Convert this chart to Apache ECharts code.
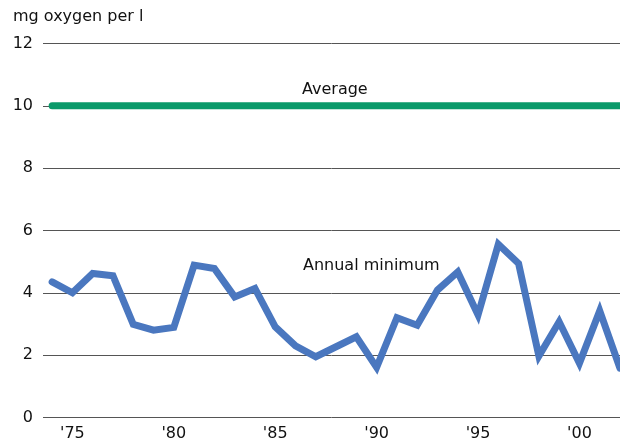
<!DOCTYPE html>
<html>
<head>
<meta charset="utf-8">
<script src="https://cdn.jsdelivr.net/npm/echarts@6/dist/echarts.min.js"></script>
<style>html,body{margin:0;padding:0;background:#fff}#c{width:620px;height:444px}</style>
</head>
<body>
<div id="c"></div>
<script>
const years = [1974,1975,1976,1977,1978,1979,1980,1981,1982,1983,1984,1985,1986,1987,1988,1989,1990,1991,1992,1993,1994,1995,1996,1997,1998,1999,2000,2001,2002];
const annualMinimum = [4.35,4.0,4.62,4.55,2.99,2.80,2.89,4.89,4.78,3.87,4.14,2.91,2.30,1.95,2.27,2.59,1.61,3.20,2.96,4.09,4.67,3.29,5.56,4.94,1.97,3.07,1.74,3.42,1.58];
const average = years.map(() => 10);
const xTickYears = [1975,1980,1985,1990,1995,2000];
const FONT = 'DejaVu Sans';

const chart = echarts.init(document.getElementById('c'), null, {renderer:'canvas'});
chart.setOption({
  animation:false,
  backgroundColor:'#fff',
  textStyle:{fontFamily:FONT},
  grid:{left:43,right:0,top:43.5,bottom:26.5,containLabel:false},
  xAxis:{
    type:'value', min:1973.55, max:2002,
    axisLine:{show:false}, axisTick:{show:false}, splitLine:{show:false},
    axisLabel:{customValues:xTickYears, color:'#111', fontSize:16, fontFamily:FONT, margin:8,
      formatter:v=>"'"+String(v).slice(2)}
  },
  yAxis:{
    type:'value', min:0, max:12, interval:2,
    axisLine:{show:false}, axisTick:{show:false},
    splitLine:{lineStyle:{color:'#555',width:1}},
    axisLabel:{color:'#111', fontSize:16, fontFamily:FONT, margin:10}
  },
  graphic:[
    {type:'text', left:13, top:9, style:{text:'mg oxygen per l', fill:'#111', font:'16px "DejaVu Sans"'}},
    {type:'text', left:302, top:82, style:{text:'Average', fill:'#111', font:'16px "DejaVu Sans"'}},
    {type:'text', left:303, top:258, style:{text:'Annual minimum', fill:'#111', font:'16px "DejaVu Sans"'}}
  ],
  series:[
    {type:'line', data:years.map((y,i)=>[y,average[i]]), showSymbol:false,
      lineStyle:{color:'#0b9a6a',width:7,cap:'round'}},
    {type:'line', data:years.map((y,i)=>[y,annualMinimum[i]]), showSymbol:false,
      lineStyle:{color:'#4a77bf',width:7,cap:'round',join:'miter'}}
  ]
});
</script>
</body>
</html>
